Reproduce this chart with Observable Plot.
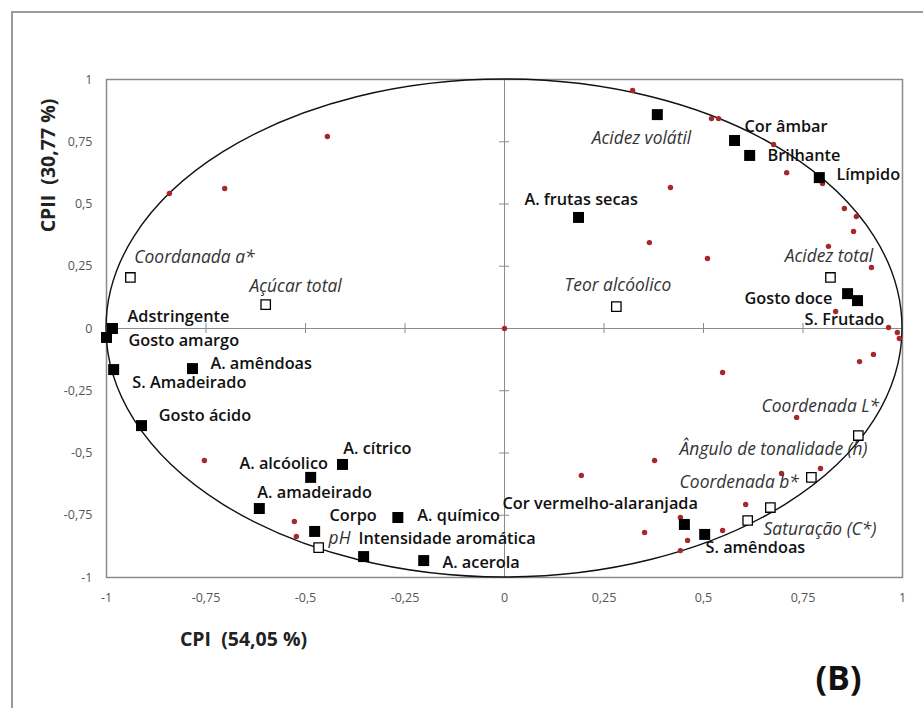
<!DOCTYPE html>
<html>
<head>
<meta charset="utf-8">
<script src="https://cdn.jsdelivr.net/npm/d3@7"></script>
<script src="https://cdn.jsdelivr.net/npm/@observablehq/plot@0.6"></script>
<style>
  html, body { margin: 0; padding: 0; background: #fff; }
  #wrap { position: relative; width: 923px; height: 708px; overflow: hidden; }
  #border { position: absolute; left: 11px; top: 11px; width: 930px; height: 720px;
            border-top: 2px solid #9a9a9a; border-left: 2px solid #9a9a9a; pointer-events: none; }
  svg { display: block; }
</style>
</head>
<body>
<div id="wrap"><div id="border"></div></div>
<script>
// ---- Data ----
const tickValues = [-1, -0.75, -0.5, -0.25, 0, 0.25, 0.5, 0.75, 1];
const tickLabels = ["-1", "-0,75", "-0,5", "-0,25", "0", "0,25", "0,5", "0,75", "1"];
const innerTicks = [-0.75, -0.5, -0.25, 0.25, 0.5, 0.75];

// Sensory attributes (filled squares)
const sensory = [
  {name: "Acidez volátil", x: 0.384, y: 0.859},
  {name: "Cor âmbar", x: 0.578, y: 0.755},
  {name: "Brilhante", x: 0.616, y: 0.695},
  {name: "Límpido", x: 0.791, y: 0.606},
  {name: "A. frutas secas", x: 0.186, y: 0.446},
  {name: "Gosto doce", x: 0.862, y: 0.140},
  {name: "S. Frutado", x: 0.887, y: 0.112},
  {name: "Adstringente", x: -0.985, y: 0.000},
  {name: "Gosto amargo", x: -1.000, y: -0.036},
  {name: "S. Amadeirado", x: -0.982, y: -0.165},
  {name: "A. amêndoas", x: -0.784, y: -0.161},
  {name: "Gosto ácido", x: -0.912, y: -0.390},
  {name: "A. alcóolico", x: -0.487, y: -0.598},
  {name: "A. cítrico", x: -0.407, y: -0.546},
  {name: "A. amadeirado", x: -0.616, y: -0.723},
  {name: "Corpo", x: -0.477, y: -0.815},
  {name: "A. químico", x: -0.268, y: -0.759},
  {name: "Intensidade aromática", x: -0.354, y: -0.916},
  {name: "A. acerola", x: -0.203, y: -0.932},
  {name: "Cor vermelho-alaranjada", x: 0.452, y: -0.787},
  {name: "S. amêndoas", x: 0.503, y: -0.827}
];

// Physicochemical variables (open squares)
const physico = [
  {name: "Coordanada a*", x: -0.940, y: 0.205},
  {name: "Açúcar total", x: -0.600, y: 0.096},
  {name: "Teor alcóolico", x: 0.281, y: 0.088},
  {name: "Acidez total", x: 0.819, y: 0.205},
  {name: "pH", x: -0.467, y: -0.880},
  {name: "Ângulo de tonalidade (h)", x: 0.889, y: -0.430},
  {name: "Coordenada b*", x: 0.771, y: -0.598},
  {name: "Saturação (C*)", x: 0.668, y: -0.719},
  {name: "Coordenada L*", x: 0.611, y: -0.771}
];

// Samples (red dots)
const sampleX = [-0.842, -0.703, -0.445, 0.322, 0.520, 0.538, 0.676, 0.709, 0.799, 0.854,
                 0.884, 0.877, 0.814, 0.922, 0.417, 0.364, 0.510, 0.832, 0.965, 0.987,
                 0.992, 0.000, 0.927, 0.892, 0.548, 0.734, 0.377, 0.193, 0.696, 0.794,
                 0.606, 0.442, 0.352, 0.460, 0.442, 0.548, -0.754, -0.528, -0.523];
const sampleY = [0.542, 0.562, 0.771, 0.956, 0.843, 0.843, 0.739, 0.626, 0.582, 0.482,
                 0.450, 0.390, 0.330, 0.245, 0.566, 0.345, 0.281, 0.068, 0.004, -0.016,
                 -0.040, 0.000, -0.104, -0.133, -0.177, -0.357, -0.530, -0.590, -0.582, -0.562,
                 -0.707, -0.759, -0.819, -0.851, -0.892, -0.811, -0.530, -0.775, -0.835];

// Label anchors (data coordinates, left edge of text)
const boldLabels = [
  {text: "Cor âmbar", x: 0.603, y: 0.811},
  {text: "Brilhante", x: 0.661, y: 0.695},
  {text: "Límpido", x: 0.834, y: 0.618},
  {text: "A. frutas secas", x: 0.050, y: 0.518},
  {text: "Gosto doce", x: 0.603, y: 0.120},
  {text: "S. Frutado", x: 0.754, y: 0.036},
  {text: "Adstringente", x: -0.947, y: 0.048},
  {text: "Gosto amargo", x: -0.945, y: -0.048},
  {text: "A. amêndoas", x: -0.739, y: -0.141},
  {text: "S. Amadeirado", x: -0.935, y: -0.217},
  {text: "Gosto ácido", x: -0.869, y: -0.349},
  {text: "A. cítrico", x: -0.405, y: -0.482},
  {text: "A. alcóolico", x: -0.666, y: -0.542},
  {text: "A. amadeirado", x: -0.621, y: -0.659},
  {text: "Corpo", x: -0.440, y: -0.751},
  {text: "A. químico", x: -0.219, y: -0.751},
  {text: "Intensidade aromática", x: -0.367, y: -0.843},
  {text: "A. acerola", x: -0.156, y: -0.940},
  {text: "Cor vermelho-alaranjada", x: -0.005, y: -0.703},
  {text: "S. amêndoas", x: 0.505, y: -0.880}
];
const italicLabels = [
  {text: "Acidez volátil", x: 0.219, y: 0.763},
  {text: "Acidez total", x: 0.704, y: 0.289},
  {text: "Teor alcóolico", x: 0.151, y: 0.173},
  {text: "Coordanada a*", x: -0.930, y: 0.285},
  {text: "Açúcar total", x: -0.641, y: 0.169},
  {text: "pH", x: -0.442, y: -0.843},
  {text: "Coordenada L*", x: 0.646, y: -0.313},
  {text: "Ângulo de tonalidade (h)", x: 0.440, y: -0.486},
  {text: "Coordenada b*", x: 0.440, y: -0.618},
  {text: "Saturação (C*)", x: 0.651, y: -0.807}
];

const samples = sampleX.map((x, i) => ({x, y: sampleY[i]}));
const ticks = tickValues.map((v, i) => ({v, label: tickLabels[i]}));

// correlation circle drawn through the scales
function circleMark(index, scales) {
  const sx = scales.x, sy = scales.y;
  const el = document.createElementNS("http://www.w3.org/2000/svg", "ellipse");
  el.setAttribute("cx", sx(0));
  el.setAttribute("cy", sy(0));
  el.setAttribute("rx", sx(1) - sx(0));
  el.setAttribute("ry", sy(0) - sy(1));
  el.setAttribute("fill", "none");
  el.setAttribute("stroke", "#111");
  el.setAttribute("stroke-width", 1.4);
  return el;
}

const chart = Plot.plot({
  width: 923,
  height: 708,
  marginLeft: 106,
  marginRight: 21,
  marginTop: 79,
  marginBottom: 131,
  x: {domain: [-1, 1], axis: null},
  y: {domain: [-1, 1], axis: null},
  style: {fontFamily: "'Open Sans', sans-serif", background: "transparent"},
  marks: [
    Plot.ruleX([0], {stroke: "#8a8a8a", strokeWidth: 1}),
    Plot.ruleY([0], {stroke: "#8a8a8a", strokeWidth: 1}),
    Plot.ruleX(innerTicks, {x: d => d, y1: 0, y2: 0, insetTop: -5, insetBottom: -5, stroke: "#8a8a8a"}),
    Plot.ruleY(innerTicks, {y: d => d, x1: 0, x2: 0, insetLeft: -5, insetRight: -5, stroke: "#8a8a8a"}),
    Plot.frame({stroke: "#8a8a8a", strokeWidth: 1.5}),
    circleMark,
    Plot.text(ticks, {x: "v", y: -1, text: "label", dy: 20, fontSize: 12.5, fill: "#555"}),
    Plot.text(ticks, {x: -1, y: "v", text: "label", dx: -14, textAnchor: "end", fontSize: 12.5, fill: "#555"}),
    Plot.dot(samples, {x: "x", y: "y", r: 2.7, fill: "#a6282a", stroke: "none"}),
    Plot.dot(sensory, {x: "x", y: "y", symbol: "square", r: 6.2, fill: "#000", stroke: "none"}),
    Plot.dot(physico, {x: "x", y: "y", symbol: "square", r: 5.3, fill: "#fff", stroke: "#000", strokeWidth: 1.3}),
    Plot.text(boldLabels, {x: "x", y: "y", text: "text", textAnchor: "start", fontSize: 16.3, fontWeight: 600, fill: "#111"}),
    Plot.text(italicLabels, {x: "x", y: "y", text: "text", textAnchor: "start", fontSize: 17.4, fontStyle: "italic", fill: "#333"}),
    Plot.text(["CPII  (30,77 %)"], {frameAnchor: "left", textAnchor: "middle", dx: -58, dy: -163, rotate: -90, fontSize: 19.5, fontWeight: 700, fill: "#222"}),
    Plot.text(["CPI  (54,05 %)"], {frameAnchor: "bottom-left", textAnchor: "middle", dx: 137, dy: 68, fontSize: 19.5, fontWeight: 700, fill: "#222"}),
    Plot.text(["(B)"], {frameAnchor: "bottom-left", textAnchor: "middle", dx: 732, dy: 112, fontSize: 34, fontWeight: 700, fill: "#111"})
  ]
});
document.getElementById("wrap").prepend(chart);
</script>
</body>
</html>
